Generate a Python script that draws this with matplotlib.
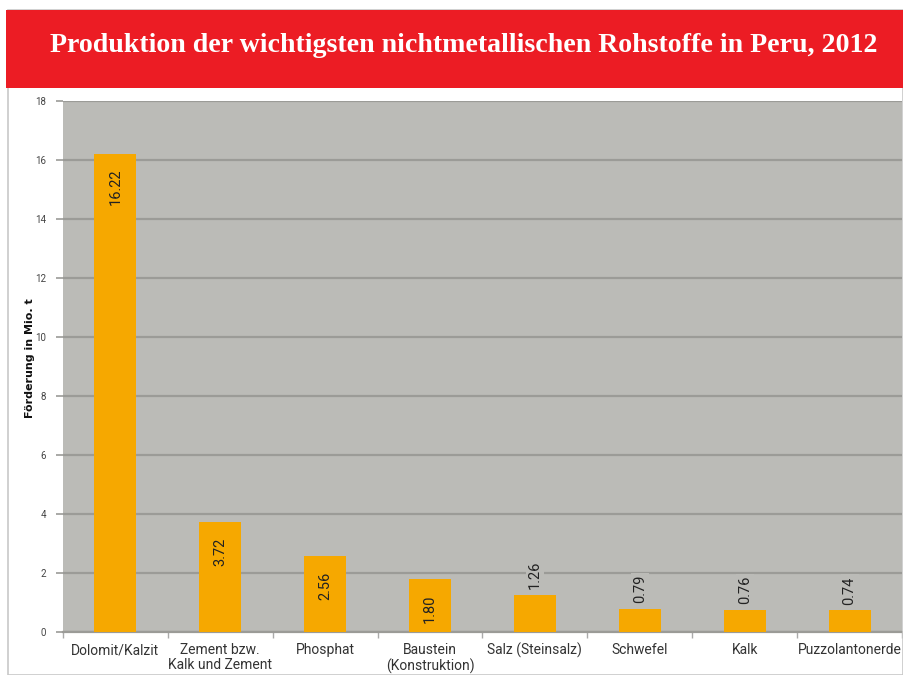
import matplotlib
matplotlib.use("Agg")
import matplotlib.pyplot as plt
from matplotlib import font_manager
from matplotlib.patches import Rectangle
import numpy as np

# Daten
kategorien = ["Dolomit/Kalzit", "Zement bzw.\nKalk und Zement", "Phosphat",
              "Baustein\n(Konstruktion)", "Salz (Steinsalz)", "Schwefel",
              "Kalk", "Puzzolantonerde"]
werte = [16.22, 3.72, 2.56, 1.80, 1.26, 0.79, 0.76, 0.74]
yticks = [0, 2, 4, 6, 8, 10, 12, 14, 16, 18]

titel = "Produktion der wichtigsten nichtmetallischen Rohstoffe in Peru, 2012"
ylabel = "Förderung in Mio. t"

# Schriften
installed = {f.name for f in font_manager.fontManager.ttflist}
narrow = "Roboto" if "Roboto" in installed else "DejaVu Sans"
serif = "Liberation Serif" if "Liberation Serif" in installed else "DejaVu Serif"

bg = "#bbbbb7"
gridc = "#9b9b97"
barc = "#f6a800"
red = "#ec1c24"

fig = plt.figure(figsize=(9.04, 6.75), dpi=100)
fig.patch.set_facecolor("white")

# Rahmen und Titelbalken
fig.patches.append(Rectangle((8 / 904, 0.0), 895 / 904, 665 / 675, transform=fig.transFigure,
                             facecolor="none", edgecolor="#c8c8c8", lw=1.2))
fig.patches.append(Rectangle((6 / 904, (675 - 88) / 675), 898 / 904, 78 / 675,
                             transform=fig.transFigure, facecolor=red, edgecolor="none"))
fig.text(0.513, (675 - 45) / 675, titel, color="white", fontsize=20.1, fontweight="bold",
         family=serif, ha="center", va="center")

ax = fig.add_axes([63 / 904, 43 / 675, 839 / 904, 531 / 675])
ax.set_facecolor(bg)

x = np.arange(len(werte))
ax.bar(x, werte, width=0.4, color=barc, zorder=3)

ax.set_xlim(-0.5, len(werte) - 0.5)
ax.set_ylim(0, 18)
ax.set_yticks(yticks)
ax.set_yticklabels([str(v) for v in yticks], fontsize=7, color="#444444", family=narrow)
ax.yaxis.grid(True, color=gridc, lw=1.6, zorder=1)
ax.tick_params(axis="y", length=5, width=1.2, color=gridc, pad=7)

ax.set_xticks(x)
ax.set_xticklabels(kategorien, fontsize=10, color="#333333", family=narrow, linespacing=1.1)
ax.set_xticks(np.arange(len(werte) + 1) - 0.5, minor=True)
ax.tick_params(axis="x", which="major", length=0, pad=8)
ax.tick_params(axis="x", which="minor", length=4, width=1, color="#aaaaaa")

for s in ["top", "right", "left"]:
    ax.spines[s].set_visible(False)
ax.spines["bottom"].set_color(gridc)
ax.spines["bottom"].set_linewidth(1.6)

# Wertbeschriftungen
for xi, v in zip(x, werte):
    if v >= 1.5:
        ax.annotate(f"{v:.2f}", (xi, v), xytext=(0, -11), textcoords="offset points",
                    rotation=90, ha="center", va="top", fontsize=10.5, color="#222222",
                    family=narrow, zorder=4)
    else:
        ax.annotate(f"{v:.2f}", (xi, v), xytext=(0, 4), textcoords="offset points",
                    rotation=90, ha="center", va="bottom", fontsize=10.5, color="#222222",
                    family=narrow, zorder=4,
                    bbox=dict(facecolor=bg, edgecolor="none", pad=1.5))

fig.text(30 / 904, (675 - 358) / 675, ylabel, rotation=90, ha="center", va="center",
         fontsize=8, fontweight="bold", color="#111111")

fig.savefig("out.png", dpi=100)
